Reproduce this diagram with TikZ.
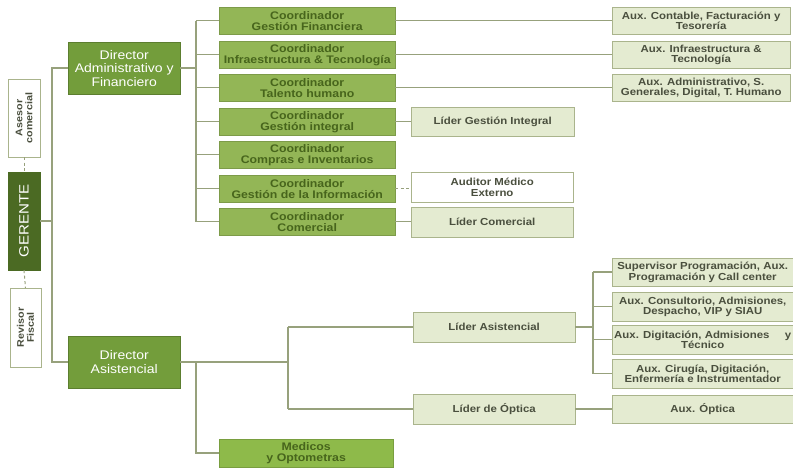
\documentclass[tikz,border=0pt]{standalone}
\usepackage{fontspec}
\setmainfont{Liberation Sans}
\newfontfamily\wf[FakeStretch=1.12]{Liberation Sans}
\usetikzlibrary{shadows}
\definecolor{gdark}{HTML}{4B6A23}
\definecolor{gmid}{HTML}{739D3B}
\definecolor{gcoord}{HTML}{93B656}
\definecolor{gmed}{HTML}{8EBA4A}
\definecolor{gtext}{HTML}{47651C}
\definecolor{gpale}{HTML}{E4EBD1}
\definecolor{gborder}{HTML}{AAB48C}
\definecolor{gline}{HTML}{97A17C}
\definecolor{atext}{HTML}{4A4F3E}
\tikzset{
  base/.style={anchor=north west, inner sep=0pt, align=center, drop shadow={shadow xshift=1.2pt, shadow yshift=-1.2pt, opacity=0.25}},
  dirbox/.style={base, fill=gmid, draw=gmid!80!black, text=white, font=\wf\fontsize{12.5}{13.5}\selectfont, minimum width=112pt, minimum height=52pt},
  coordbox/.style={base, fill=gcoord, draw=gcoord!85!black, text=gtext, font=\wf\bfseries\fontsize{11}{11}\selectfont, minimum width=176pt, minimum height=27pt},
  palebox/.style={base, fill=gpale, draw=gborder, text=atext, font=\wf\bfseries\fontsize{10.2}{10.5}\selectfont, minimum height=28pt},
  whitebox/.style={base, fill=white, draw=gborder, text=atext, font=\wf\bfseries\fontsize{10.2}{10.5}\selectfont, minimum height=29pt},
  sidebox/.style={inner sep=0pt, align=center, rotate=90, fill=white, draw=gborder, text=atext, font=\wf\bfseries\fontsize{9.6}{10}\selectfont},
  conn/.style={draw=gline, line width=1.5pt},
  dconn/.style={draw=gline, line width=1pt, dash pattern=on 3pt off 2.5pt},
}
\begin{document}
\begin{tikzpicture}[x=1pt,y=-1pt]
\useasboundingbox (0,0) rectangle (793,467);
\fill[white] (0,0) rectangle (793,467);
% left column
\node[sidebox, minimum width=78pt, minimum height=32pt] (ase) at (24,118) {Asesor\\comercial};
\node[sidebox, fill=gdark, draw=gdark, text=white, font=\wf\fontsize{13.5}{14}\selectfont, minimum width=98pt, minimum height=32pt] (ger) at (24,221) {GERENTE};
\node[sidebox, minimum width=79pt, minimum height=31pt] (rev) at (25.5,327.5) {Revisor\\Fiscal};
% directors
\node[dirbox] (dira) at (68,42) {Director\\Administrativo y\\Financiero};
\node[dirbox] (dirs) at (68,336) {Director\\Asistencial};
% coordinators
\node[coordbox] (c1) at (219,7) {Coordinador\\Gestión Financiera};
\node[coordbox] (c2) at (219,41) {Coordinador\\Infraestructura \& Tecnología};
\node[coordbox] (c3) at (219,74) {Coordinador\\Talento humano};
\node[coordbox] (c4) at (219,108) {Coordinador\\Gestión integral};
\node[coordbox] (c5) at (219,141) {Coordinador\\Compras e Inventarios};
\node[coordbox] (c6) at (219,175) {Coordinador\\Gestión de la Información};
\node[coordbox] (c7) at (219,208) {Coordinador\\Comercial};
\node[coordbox, fill=gmed, draw=gmed!85!black, minimum width=174pt, minimum height=28pt] (med) at (219,439) {Medicos\\y Optometras};
% aux top
\node[palebox, minimum width=178pt, minimum height=27pt] (a1) at (612,7) {Aux. Contable, Facturación y\\Tesorería};
\node[palebox, minimum width=178pt, minimum height=27pt] (a2) at (612,41) {Aux. Infraestructura \&\\Tecnología};
\node[palebox, minimum width=178pt, minimum height=27pt] (a3) at (612,74) {Aux. Administrativo, S.\\Generales, Digital, T. Humano};
% lideres
\node[palebox, minimum width=163pt, minimum height=29pt] (lgi) at (411,107) {Líder Gestión Integral};
\node[whitebox, minimum width=162pt, minimum height=30pt] (aud) at (411,172) {Auditor Médico\\Externo};
\node[palebox, minimum width=162pt, minimum height=30pt] (lco) at (411,207) {Líder Comercial};
\node[palebox, minimum width=162pt, minimum height=30pt] (las) at (413,312) {Líder Asistencial};
\node[palebox, minimum width=162pt, minimum height=30pt] (lop) at (413,394) {Líder de Óptica};
% aux asistencial
\node[palebox, minimum width=181pt] (s1) at (612,258) {Supervisor Programación, Aux.\\Programación y Call center};
\node[palebox, minimum width=181pt, minimum height=29pt] (s2) at (612,292) {Aux. Consultorio, Admisiones,\\Despacho, VIP y SIAU};
\node[palebox, minimum width=181pt, minimum height=29pt] (s3) at (612,325) {\makebox[177pt]{Aux. Digitación, Admisiones\hfill y}\\Técnico};
\node[palebox, minimum width=181pt, minimum height=29pt] (s4) at (612,359) {Aux. Cirugía, Digitación,\\Enfermería e Instrumentador};
\node[palebox, minimum width=181pt, minimum height=28pt] (aop) at (612,395) {Aux. Óptica};
% branch coordinates
\coordinate (b1) at (52,220);
\coordinate (b2) at (196,68);
\coordinate (b3) at (288,362);
\coordinate (b4) at (593,327);
% connectors
\draw[dconn] (ase.west) -- (ger.east);
\draw[dconn] (ger.west) -- (rev.east);
\draw[conn] (ger.south) -- (ger.south -| b1);
\draw[conn] (dira.west) -- (dira.west -| b1) -- (dirs.west -| b1) -- (dirs.west);
\draw[conn] (dira.east) -- (dira.east -| b2);
\draw[conn] (c1.west -| b2) -- (c7.west -| b2);
\foreach \c in {c1,c2,c3,c4,c5,c6,c7} \draw[conn] (\c.west -| b2) -- (\c.west);
\draw[conn] (c1.east) -- (c1.east -| a1.west);
\draw[conn] (c2.east) -- (c2.east -| a2.west);
\draw[conn] (c3.east) -- (c3.east -| a3.west);
\draw[conn] (c4.east) -- (c4.east -| lgi.west);
\draw[dconn] (c6.east) -- (c6.east -| aud.west);
\draw[conn] (c7.east) -- (c7.east -| lco.west);
\draw[conn] (dirs.east) -- (dirs.east -| b3);
\draw[conn] (las.west -| b3) -- (lop.west -| b3);
\draw[conn] (las.west -| b3) -- (las.west);
\draw[conn] (lop.west -| b3) -- (lop.west);
\draw[conn] (dirs.east -| b2) |- (med.west);
\draw[conn] (las.east) -- (las.east -| b4);
\draw[conn] (s1.west -| b4) -- (s4.west -| b4);
\foreach \s in {s1,s2,s3,s4} \draw[conn] (\s.west -| b4) -- (\s.west);
\draw[conn] (lop.east) -- (lop.east -| aop.west);
\end{tikzpicture}
\end{document}
